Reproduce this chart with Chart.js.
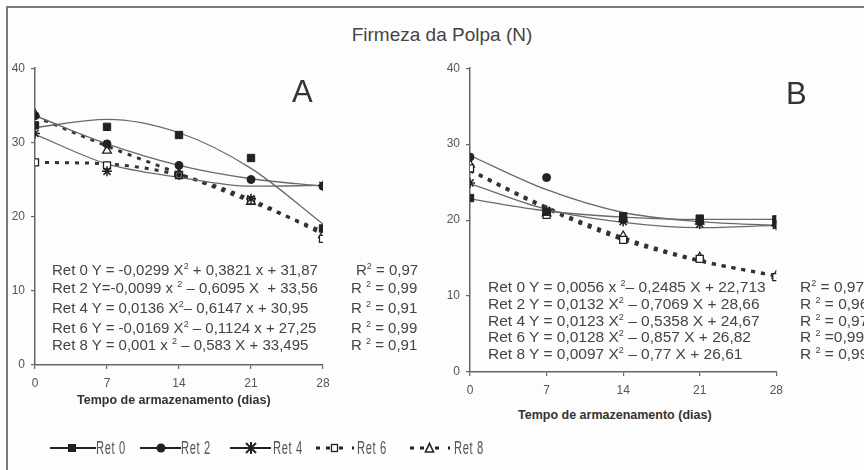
<!DOCTYPE html>
<html>
<head>
<meta charset="utf-8">
<script src="https://cdn.jsdelivr.net/npm/chart.js@4.4.1/dist/chart.umd.min.js"></script>
<style>
body{margin:0;width:864px;height:470px;overflow:hidden;background:#fdfdfd;position:relative;font-family:"Liberation Sans",Arial,sans-serif;color:#444}
#frame{position:absolute;left:6px;top:6px;width:900px;height:500px;border-top:2px solid #7a7a7a;border-left:2px solid #7a7a7a}
.abs{position:absolute;white-space:nowrap}
.eq{font-size:15px;line-height:17px;color:#444}
.eqb{font-size:15.5px}
.eq sup{font-size:9px;vertical-align:6px;line-height:0}
.xt{font-size:12.5px;font-weight:bold;color:#333}
.big{font-size:31px;color:#333}
.leg{font-size:18px;letter-spacing:1px;color:#555;transform:scaleX(0.62);transform-origin:0 0;line-height:22px}
</style>
</head>
<body>
<div id="frame"></div>
<div class="abs" style="left:0;width:884px;top:24px;text-align:center;font-size:19px;color:#444">Firmeza da Polpa (N)</div>

<div class="abs" style="left:0;top:55px"><canvas id="chartA" width="340" height="345"></canvas></div>
<div class="abs" style="left:430px;top:55px"><canvas id="chartB" width="360" height="345"></canvas></div>

<div class="abs big" style="left:292px;top:74px">A</div>
<div class="abs big" style="left:786px;top:76px">B</div>

<div class="abs xt" style="left:77px;top:393px">Tempo de armazenamento (dias)</div>
<div class="abs xt" style="left:518px;top:408px">Tempo de armazenamento (dias)</div>

<!-- equações painel A -->
<div class="abs eq" style="left:52px;top:261px">Ret 0 Y = -0,0299 X<sup>2</sup> + 0,3821 x + 31,87</div>
<div class="abs eq" style="left:52px;top:279px">Ret 2 Y=-0,0099 x <sup>2</sup> – 0,6095 X &nbsp;+ 33,56</div>
<div class="abs eq" style="left:52px;top:299px">Ret 4 Y = 0,0136 X<sup>2</sup>– 0,6147 x + 30,95</div>
<div class="abs eq" style="left:52px;top:319px">Ret 6 Y = -0,0169 X<sup>2</sup> – 0,1124 x + 27,25</div>
<div class="abs eq" style="left:52px;top:336px">Ret 8 Y = 0,001 x <sup>2</sup> – 0,583 X + 33,495</div>
<div class="abs eq" style="left:356px;top:261px">R<sup>2</sup> = 0,97</div>
<div class="abs eq" style="left:351px;top:279px">R <sup>2</sup> = 0,99</div>
<div class="abs eq" style="left:351px;top:299px">R <sup>2</sup> = 0,91</div>
<div class="abs eq" style="left:351px;top:319px">R <sup>2</sup> = 0,99</div>
<div class="abs eq" style="left:351px;top:336px">R <sup>2</sup> = 0,91</div>

<!-- equações painel B -->
<div class="abs eq eqb" style="left:488px;top:278px">Ret 0 Y = 0,0056 x <sup>2</sup>– 0,2485 X + 22,713</div>
<div class="abs eq eqb" style="left:488px;top:295px">Ret 2 Y = 0,0132 X<sup>2</sup> – 0,7069 X + 28,66</div>
<div class="abs eq eqb" style="left:488px;top:312px">Ret 4 Y = 0,0123 X<sup>2</sup> – 0,5358 X + 24,67</div>
<div class="abs eq eqb" style="left:488px;top:328px">Ret 6 Y = 0,0128 X<sup>2</sup> – 0,857 X + 26,82</div>
<div class="abs eq eqb" style="left:488px;top:345px">Ret 8 Y = 0,0097 X<sup>2</sup> – 0,77 X + 26,61</div>
<div class="abs eq eqb" style="left:800px;top:278px">R<sup>2</sup> = 0,97</div>
<div class="abs eq eqb" style="left:800px;top:295px">R <sup>2</sup> = 0,96</div>
<div class="abs eq eqb" style="left:800px;top:312px">R <sup>2</sup> = 0,97</div>
<div class="abs eq eqb" style="left:800px;top:328px">R <sup>2</sup> =0,99</div>
<div class="abs eq eqb" style="left:800px;top:345px">R <sup>2</sup> = 0,99</div>

<!-- legenda -->
<div class="abs" style="left:48px;top:437px">
<svg width="50" height="22" style="position:absolute;left:0;top:0"><line x1="2" y1="11" x2="48" y2="11" stroke="#222" stroke-width="2"/><rect x="20" y="7" width="8" height="8" fill="#222"/></svg>
<span class="abs leg" style="left:48px;top:0">Ret 0</span></div>
<div class="abs" style="left:138px;top:437px">
<svg width="45" height="22" style="position:absolute;left:0;top:0"><line x1="2" y1="11" x2="43" y2="11" stroke="#222" stroke-width="2"/><circle cx="23" cy="11" r="4.5" fill="#222"/></svg>
<span class="abs leg" style="left:43px;top:0">Ret 2</span></div>
<div class="abs" style="left:228px;top:437px">
<svg width="45" height="22" style="position:absolute;left:0;top:0"><line x1="2" y1="11" x2="43" y2="11" stroke="#222" stroke-width="2"/><path d="M18 6 L28 16 M28 6 L18 16 M23 5 L23 17" stroke="#222" stroke-width="2"/></svg>
<span class="abs leg" style="left:45px;top:0">Ret 4</span></div>
<div class="abs" style="left:314px;top:437px">
<svg width="44" height="22" style="position:absolute;left:0;top:0"><line x1="2" y1="11" x2="6" y2="11" stroke="#222" stroke-width="3"/><line x1="12" y1="11" x2="16" y2="11" stroke="#222" stroke-width="3"/><rect x="17.5" y="7.5" width="6" height="7" fill="#fff" stroke="#222" stroke-width="1.3"/><line x1="25" y1="11" x2="29" y2="11" stroke="#222" stroke-width="3"/><line x1="38" y1="11" x2="40" y2="11" stroke="#222" stroke-width="3"/></svg>
<span class="abs leg" style="left:43px;top:0">Ret 6</span></div>
<div class="abs" style="left:408px;top:437px">
<svg width="44" height="22" style="position:absolute;left:0;top:0"><line x1="2" y1="11" x2="6" y2="11" stroke="#222" stroke-width="3"/><line x1="12" y1="11" x2="16" y2="11" stroke="#222" stroke-width="3"/><path d="M21.5 6.5 L25.5 15 L17.5 15 Z" fill="#fff" stroke="#222" stroke-width="1.6"/><line x1="27" y1="11" x2="31" y2="11" stroke="#222" stroke-width="3"/><line x1="40" y1="11" x2="42" y2="11" stroke="#222" stroke-width="3"/></svg>
<span class="abs leg" style="left:46px;top:0">Ret 8</span></div>

<script>
// tempo de armazenamento (dias) e escala y
const days = [0, 7, 14, 21, 28];
const yTicks = [0, 10, 20, 30, 40];
const seriesNames = ['Ret 0', 'Ret 2', 'Ret 4', 'Ret 6', 'Ret 8'];

// painel A - valores observados
const aRet0 = [32.3, 32.1, 31.0, 27.9, 18.4];
const aRet2 = [33.6, 29.8, 26.9, 25.0, 24.1];
const aRet4 = [31.2, 26.1, 25.6, 22.4, 24.2];
const aRet6 = [27.3, 26.9, 25.6, 22.2, 17.0];
const aRet8 = [33.8, 28.9, 25.8, 22.0, 17.5];
// painel A - curvas ajustadas
const aFit0 = [32.0, 33.1, 31.3, 26.5, 19.0];
const aFit2 = [33.6, 29.8, 26.9, 25.1, 24.1];
const aFit4 = [31.1, 27.1, 25.3, 24.1, 24.2];
const aFit6 = [27.3, 27.1, 25.6, 22.3, 17.6];
const aFit8 = [33.5, 29.5, 25.8, 22.0, 18.0];

// painel B - valores observados
const bRet0 = [22.9, 21.1, 20.5, 20.2, 20.1];
const bRet2 = [28.3, 25.6, 20.1, 19.8, 19.4];
const bRet4 = [24.9, 21.3, 19.8, 19.5, 19.3];
const bRet6 = [26.8, 20.7, 17.4, 14.9, 12.5];
const bRet8 = [27.3, 20.9, 17.9, 15.1, 12.7];
// painel B - curvas ajustadas
const bFit0 = [22.8, 21.2, 20.4, 20.1, 20.1];
const bFit2 = [28.5, 24.0, 21.0, 19.8, 19.3];
const bFit4 = [24.8, 21.4, 19.7, 19.0, 19.3];
const bFit6 = [26.5, 21.5, 17.4, 14.6, 12.7];
const bFit8 = [26.6, 21.7, 17.7, 14.7, 12.6];

const markers = [
    {pointStyle: 'rect', radius: 5.2, bg: '#222', bw: 1},
    {pointStyle: 'circle', radius: 4, bg: '#222', bw: 1},
    {pointStyle: 'star', radius: 5, bg: '#222', bw: 1.5},
    {pointStyle: 'rect', radius: 5, bg: '#fff', bw: 1.3},
    {pointStyle: 'triangle', radius: 5, bg: '#fff', bw: 1.3}
];
const dashed = [false, false, false, true, true];

function pts(arr){
    return days.map(function(d, i){ return {x: d, y: arr[i]}; });
}

function makePanel(id, obs, fits, yw, xh, padRight){
    var ds = [];
    fits.forEach(function(f, i){
        ds.push({
            label: seriesNames[i] + ' ajuste',
            data: pts(f),
            showLine: true,
            borderColor: dashed[i] ? '#333' : '#6a6a6a',
            borderWidth: dashed[i] ? 3 : 1.3,
            borderDash: dashed[i] ? [4, 6] : [],
            pointRadius: 0,
            cubicInterpolationMode: 'monotone',
            fill: false,
            order: 2
        });
    });
    obs.forEach(function(o, i){
        var m = markers[i];
        ds.push({
            label: seriesNames[i],
            data: pts(o),
            showLine: false,
            pointStyle: m.pointStyle,
            pointRadius: m.radius,
            pointBackgroundColor: m.bg,
            pointBorderColor: '#222',
            pointBorderWidth: m.bw,
            order: 1
        });
    });

    var tickFont = {family: '"Liberation Sans", Arial, sans-serif', size: 12};
    return new Chart(document.getElementById(id), {
        type: 'scatter',
        data: {datasets: ds},
        options: {
            responsive: false,
            animation: false,
            layout: {padding: {top: 10, right: padRight, left: 0, bottom: 0}},
            plugins: {legend: {display: false}, tooltip: {enabled: false}},
            scales: {
                x: {
                    type: 'linear', min: 0, max: 28,
                    afterBuildTicks: function(s){ s.ticks = days.map(function(v){ return {value: v}; }); },
                    afterFit: function(s){ s.height = xh; },
                    border: {color: '#666', width: 1.5},
                    grid: {drawOnChartArea: false, tickLength: 4, color: '#666', lineWidth: 1.2},
                    ticks: {font: tickFont, color: '#555', padding: 7}
                },
                y: {
                    min: 0, max: 40,
                    afterBuildTicks: function(s){ s.ticks = yTicks.map(function(v){ return {value: v}; }); },
                    afterFit: function(s){ s.width = yw; },
                    border: {color: '#666', width: 1.5},
                    grid: {drawOnChartArea: false, tickLength: 4, color: '#666', lineWidth: 1.2},
                    ticks: {font: tickFont, color: '#555', padding: 6}
                }
            }
        }
    });
}

makePanel('chartA', [aRet0, aRet2, aRet4, aRet6, aRet8], [aFit0, aFit2, aFit4, aFit6, aFit8], 35, 35, 17);
makePanel('chartB', [bRet0, bRet2, bRet4, bRet6, bRet8], [bFit0, bFit2, bFit4, bFit6, bFit8], 40, 28, 11);
</script>
</body>
</html>
